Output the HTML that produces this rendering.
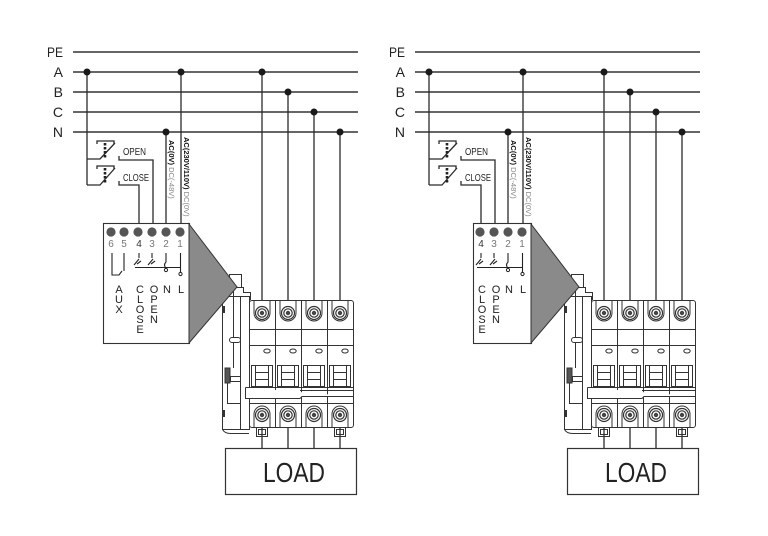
<!DOCTYPE html>
<html><head><meta charset="utf-8">
<style>
html,body{margin:0;padding:0;background:#fff;}
svg{display:block;}
text{font-family:"Liberation Sans",sans-serif;}
</style></head><body>
<svg width="768" height="536" viewBox="0 0 768 536" xmlns="http://www.w3.org/2000/svg">
<defs>
<g id="shapes">
 <g stroke="#333" stroke-width="1.4" fill="none">
  <line x1="73" y1="52" x2="358" y2="52"/>
  <line x1="73" y1="72" x2="358" y2="72"/>
  <line x1="73" y1="92" x2="358" y2="92"/>
  <line x1="73" y1="112" x2="358" y2="112"/>
  <line x1="73" y1="132" x2="358" y2="132"/>
 </g>
 <g stroke="#2b2b2b" stroke-width="1.3" fill="none">
  <path d="M87 72 V185"/>
  <path d="M87 159 H100 L115 143"/>
  <path d="M97 144 V141 H114 V144"/>
  <path d="M119 156 V160 H153 V223"/>
  <path d="M87 185 H100 L115 168"/>
  <path d="M97 169 V166 H114 V169"/>
  <path d="M119 181 V185 H139 V223"/>
  <path d="M166 132 V223"/>
  <path d="M181 72 V223"/>
  <path d="M262 72 V306"/>
  <path d="M288 92 V306"/>
  <path d="M314 112 V306"/>
  <path d="M340 132 V306"/>
  <path d="M262 421 V448 M288 421 V448 M314 421 V448 M340 421 V448"/>
 </g>
 <g stroke="#222" stroke-width="2.6" stroke-dasharray="2.5,1.5" fill="none">
  <line x1="105" y1="143" x2="105" y2="158"/>
  <line x1="105" y1="168" x2="105" y2="183"/>
 </g>
 <g fill="#1a1a1a">
  <circle cx="87" cy="72" r="3.5"/>
  <circle cx="181" cy="72" r="3.5"/>
  <circle cx="262" cy="72" r="3.5"/>
  <circle cx="288" cy="92" r="3.5"/>
  <circle cx="314" cy="112" r="3.5"/>
  <circle cx="166" cy="132" r="3.5"/>
  <circle cx="340" cy="132" r="3.5"/>
 </g>
 <rect x="225.5" y="448.5" width="131" height="46" fill="#fff" stroke="#333" stroke-width="1.2"/>
 <g fill="none" stroke="#333" stroke-width="1">
  <rect x="229.5" y="274.5" width="12" height="13" fill="#fff"/>
  <path d="M236 287.5 H243.5 V292.5 H250.5 V300"/>
  <path d="M233.5 287.5 V296"/>
  <rect x="222.5" y="296.5" width="27" height="133" fill="#fff"/>
  <line x1="240.5" y1="296" x2="240.5" y2="430"/>
  <line x1="233.5" y1="296" x2="233.5" y2="337"/>
  <rect x="229.5" y="337.5" width="11" height="5" rx="2.5"/>
  <line x1="233.5" y1="342" x2="233.5" y2="368"/>
  <rect x="225" y="368" width="5" height="15" fill="#555"/>
  <rect x="230.5" y="376.5" width="10" height="5"/>
  <path d="M227.5 383 V403.5 H240"/>
  <rect x="222" y="306" width="3" height="7" fill="#333" stroke="none"/>
  <rect x="222" y="410" width="3" height="7" fill="#333" stroke="none"/>
  <path d="M222.5 429.5 Q225 434 232 433.5 H249"/>
  <rect x="249.5" y="300.5" width="104" height="127" rx="2.5" fill="#fff"/>
  <line x1="275.5" y1="300" x2="275.5" y2="427"/>
  <line x1="301.5" y1="300" x2="301.5" y2="427"/>
  <line x1="327.5" y1="300" x2="327.5" y2="427"/>
  <path d="M254 300 V313 A8 8 0 0 0 270 313 V300"/>
  <path d="M280 300 V313 A8 8 0 0 0 296 313 V300"/>
  <path d="M306 300 V313 A8 8 0 0 0 322 313 V300"/>
  <path d="M332 300 V313 A8 8 0 0 0 348 313 V300"/>
  <line x1="249" y1="329.5" x2="353" y2="329.5"/>
  <line x1="249" y1="345.5" x2="353" y2="345.5"/>
  <ellipse cx="267" cy="351" rx="3.2" ry="2"/>
  <ellipse cx="293" cy="351" rx="3.2" ry="2"/>
  <ellipse cx="319" cy="351" rx="3.2" ry="2"/>
  <ellipse cx="345" cy="351" rx="3.2" ry="2"/>
  <g>
   <rect x="251.5" y="365.5" width="21" height="21"/>
   <path d="M255.5 365.5 V387 M268.5 365.5 V387 M255.5 372.5 H268.5 M255.5 379.5 H268.5"/>
   <rect x="277.5" y="365.5" width="21" height="21"/>
   <path d="M281.5 365.5 V387 M294.5 365.5 V387 M281.5 372.5 H294.5 M281.5 379.5 H294.5"/>
   <rect x="303.5" y="365.5" width="21" height="21"/>
   <path d="M307.5 365.5 V387 M320.5 365.5 V387 M307.5 372.5 H320.5 M307.5 379.5 H320.5"/>
   <rect x="329.5" y="365.5" width="21" height="21"/>
   <path d="M333.5 365.5 V387 M346.5 365.5 V387 M333.5 372.5 H346.5 M333.5 379.5 H346.5"/>
  </g>
  <path d="M245.5 387.5 H353 M245.5 387.5 V398.5 H300 L302 396.5 H353" fill="#fff"/>
  <line x1="300" y1="390.5" x2="353" y2="390.5"/>
  <line x1="249" y1="403.5" x2="353" y2="403.5"/>
  <path d="M254 427 V414 A8 8 0 0 1 270 414 V427"/>
  <path d="M280 427 V414 A8 8 0 0 1 296 414 V427"/>
  <path d="M306 427 V414 A8 8 0 0 1 322 414 V427"/>
  <path d="M332 427 V414 A8 8 0 0 1 348 414 V427"/>
  <rect x="256.5" y="427.5" width="11" height="9"/>
  <rect x="258.5" y="429.5" width="7" height="5"/>
  <rect x="334.5" y="427.5" width="11" height="9"/>
  <rect x="336.5" y="429.5" width="7" height="5"/>
 </g>
 <g fill="none" stroke="#333">
  <g stroke-width="1.2">
   <circle cx="262" cy="313" r="6.5"/><circle cx="288" cy="313" r="6.5"/><circle cx="314" cy="313" r="6.5"/><circle cx="340" cy="313" r="6.5"/>
   <circle cx="262" cy="415" r="6.5"/><circle cx="288" cy="415" r="6.5"/><circle cx="314" cy="415" r="6.5"/><circle cx="340" cy="415" r="6.5"/>
   <circle cx="262" cy="313" r="4.2"/><circle cx="288" cy="313" r="4.2"/><circle cx="314" cy="313" r="4.2"/><circle cx="340" cy="313" r="4.2"/>
   <circle cx="262" cy="415" r="4.2"/><circle cx="288" cy="415" r="4.2"/><circle cx="314" cy="415" r="4.2"/><circle cx="340" cy="415" r="4.2"/>
  </g>
  <g fill="#444" stroke="none">
   <circle cx="262" cy="313" r="2.2"/><circle cx="288" cy="313" r="2.2"/><circle cx="314" cy="313" r="2.2"/><circle cx="340" cy="313" r="2.2"/>
   <circle cx="262" cy="415" r="2.2"/><circle cx="288" cy="415" r="2.2"/><circle cx="314" cy="415" r="2.2"/><circle cx="340" cy="415" r="2.2"/>
  </g>
 </g>
</g>

<g id="modshared">
 <polygon points="189,224 237,287 189,343" fill="#8a8a8a" stroke="#333" stroke-width="1"/>
 <g fill="#555">
  <circle cx="138" cy="232" r="4.6"/>
  <circle cx="152" cy="232" r="4.6"/>
  <circle cx="166" cy="232" r="4.6"/>
  <circle cx="180" cy="232" r="4.6"/>
 </g>
 <g stroke="#222" stroke-width="1.1" fill="none">
  <path d="M139 253 V258 M152 253 V258"/>
  <path d="M134 265 L139 259 M137 264 L141 261"/>
  <path d="M148 265 L153 259 M151 264 L155 261"/>
  <path d="M135 267.5 H181"/>
  <path d="M166 253 V262 Q163 265 166 268"/>
  <path d="M180.5 253 V272"/>
 </g>
 <circle cx="166" cy="270" r="1.6" fill="none" stroke="#222"/>
 <circle cx="180.5" cy="274" r="1.6" fill="none" stroke="#222"/>
</g>
</defs>

<rect x="103.5" y="223.5" width="86" height="120" fill="#fff" stroke="#333" stroke-width="1.1"/>
<rect x="473.5" y="223.5" width="58" height="120" fill="#fff" stroke="#333" stroke-width="1.1"/>

<use href="#shapes"/>
<use href="#shapes" x="342"/>
<use href="#modshared"/>
<use href="#modshared" x="342"/>

<g fill="#555">
 <circle cx="111" cy="232" r="4.6"/>
 <circle cx="124" cy="232" r="4.6"/>
</g>
<path d="M112 253 V275 H119 L122 271 M124 253 V271" fill="none" stroke="#222" stroke-width="1.1"/>

<g font-size="14" fill="#222" text-anchor="end">
 <text x="63" y="57" textLength="16" lengthAdjust="spacingAndGlyphs">PE</text>
 <text x="63" y="77">A</text>
 <text x="63" y="97">B</text>
 <text x="63" y="117">C</text>
 <text x="63" y="137">N</text>
</g>
<text x="123" y="155" font-size="10" fill="#222" textLength="23" lengthAdjust="spacingAndGlyphs">OPEN</text>
<text x="123" y="181" font-size="10" fill="#222" textLength="26" lengthAdjust="spacingAndGlyphs">CLOSE</text>
<text transform="translate(169,140) rotate(90)" font-size="7.5"><tspan font-weight="bold" fill="#111">AC(0V)</tspan><tspan fill="#888"> DC(-48V)</tspan></text>
<text transform="translate(184,137) rotate(90)" font-size="7.5"><tspan font-weight="bold" fill="#111">AC(230V/110V)</tspan><tspan fill="#888"> DC(0V)</tspan></text>
<g font-size="10" fill="#777" text-anchor="middle">
 <text x="111" y="247">6</text><text x="124" y="247">5</text><text x="139" y="247" fill="#333">4</text>
 <text x="152" y="247">3</text><text x="166" y="247">2</text><text x="180" y="247">1</text>
</g>
<g font-size="11" fill="#222" text-anchor="middle">
 <text x="119" y="293"><tspan x="119">A</tspan><tspan x="119" dy="10">U</tspan><tspan x="119" dy="10">X</tspan></text>
 <text x="140" y="293"><tspan x="140">C</tspan><tspan x="140" dy="10">L</tspan><tspan x="140" dy="10">O</tspan><tspan x="140" dy="10">S</tspan><tspan x="140" dy="10">E</tspan></text>
 <text x="154" y="293"><tspan x="154">O</tspan><tspan x="154" dy="10">P</tspan><tspan x="154" dy="10">E</tspan><tspan x="154" dy="10">N</tspan></text>
 <text x="167" y="293">N</text>
 <text x="181" y="293">L</text>
</g>
<text x="263" y="482" font-size="28" fill="#222" textLength="62" lengthAdjust="spacingAndGlyphs">LOAD</text>

<g font-size="14" fill="#222" text-anchor="end">
 <text x="405" y="57" textLength="16" lengthAdjust="spacingAndGlyphs">PE</text>
 <text x="405" y="77">A</text>
 <text x="405" y="97">B</text>
 <text x="405" y="117">C</text>
 <text x="405" y="137">N</text>
</g>
<text x="465" y="155" font-size="10" fill="#222" textLength="23" lengthAdjust="spacingAndGlyphs">OPEN</text>
<text x="465" y="181" font-size="10" fill="#222" textLength="26" lengthAdjust="spacingAndGlyphs">CLOSE</text>
<text transform="translate(511,140) rotate(90)" font-size="7.5"><tspan font-weight="bold" fill="#111">AC(0V)</tspan><tspan fill="#888"> DC(-48V)</tspan></text>
<text transform="translate(526,137) rotate(90)" font-size="7.5"><tspan font-weight="bold" fill="#111">AC(230V/110V)</tspan><tspan fill="#888"> DC(0V)</tspan></text>
<g font-size="10" fill="#777" text-anchor="middle">
 <text x="481" y="247" fill="#333">4</text>
 <text x="494" y="247">3</text><text x="508" y="247">2</text><text x="522" y="247">1</text>
</g>
<g font-size="11" fill="#222" text-anchor="middle">
 <text x="482" y="293"><tspan x="482">C</tspan><tspan x="482" dy="10">L</tspan><tspan x="482" dy="10">O</tspan><tspan x="482" dy="10">S</tspan><tspan x="482" dy="10">E</tspan></text>
 <text x="496" y="293"><tspan x="496">O</tspan><tspan x="496" dy="10">P</tspan><tspan x="496" dy="10">E</tspan><tspan x="496" dy="10">N</tspan></text>
 <text x="509" y="293">N</text>
 <text x="523" y="293">L</text>
</g>
<text x="605" y="482" font-size="28" fill="#222" textLength="62" lengthAdjust="spacingAndGlyphs">LOAD</text>
</svg>
</body></html>
